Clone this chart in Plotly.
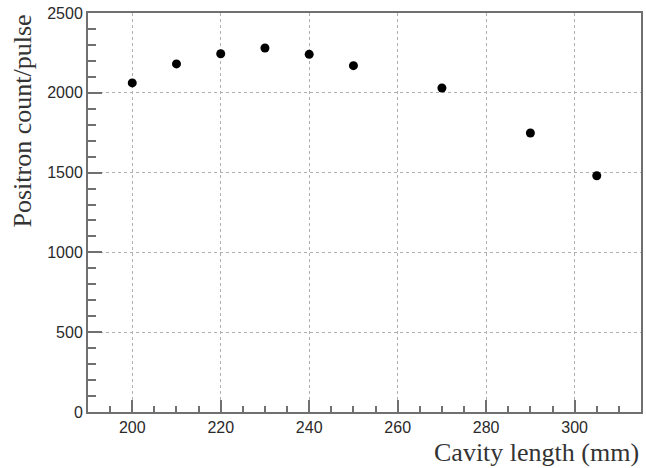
import plotly.graph_objects as go

cavity_length = [200, 210, 220, 230, 240, 250, 270, 290, 305]
positron_count = [2062, 2181, 2245, 2281, 2241, 2170, 2030, 1748, 1480]

x_ticks = [200, 220, 240, 260, 280, 300]
y_ticks = [0, 500, 1000, 1500, 2000, 2500]

fig = go.Figure()
fig.add_trace(go.Scatter(
    x=cavity_length, y=positron_count, mode="markers",
    marker=dict(color="black", size=9, line=dict(width=0)),
    showlegend=False,
))

axis_common = dict(
    showline=True, linecolor="#707070", linewidth=2, mirror=True,
    ticks="inside", tickcolor="#707070", tickwidth=1.5,
    showgrid=True, gridcolor="#b0b0b0", griddash="dot", gridwidth=1,
    zeroline=False,
    tickfont=dict(family="Liberation Sans, Arial", size=16, color="#2a2a2a"),
)

fig.update_xaxes(
    range=[190, 315], tickvals=x_ticks, ticklen=12,
    minor=dict(dtick=5, ticklen=6, ticks="inside", tickcolor="#707070", showgrid=False),
    **axis_common,
)
fig.update_yaxes(
    range=[0, 2500], tickvals=y_ticks, ticklen=14,
    minor=dict(dtick=100, ticklen=8, ticks="inside", tickcolor="#707070", showgrid=False),
    **axis_common,
)

fig.add_annotation(
    text="Cavity length (mm)", xref="paper", yref="paper", x=1.0, y=0,
    xanchor="right", yanchor="top", yshift=-24, showarrow=False,
    font=dict(family="Liberation Serif, Times New Roman", size=26, color="#333333"),
)
fig.add_annotation(
    text="Positron count/pulse", xref="paper", yref="paper", x=0, y=1.0,
    xanchor="center", yanchor="top", xshift=-66, textangle=-90, showarrow=False,
    font=dict(family="Liberation Serif, Times New Roman", size=26, color="#333333"),
)

fig.update_layout(
    width=646, height=468,
    margin=dict(l=88, r=3, t=13, b=56),
    paper_bgcolor="white", plot_bgcolor="white",
)

fig.write_html("out.html")
